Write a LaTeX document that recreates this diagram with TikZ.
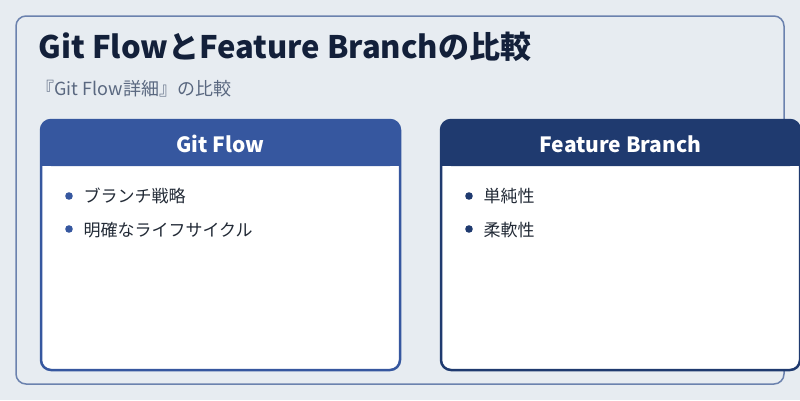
\documentclass[tikz,border=0pt]{standalone}
\usepackage{fontspec}
\setmainfont{Noto Sans CJK JP}
\definecolor{bgcol}{HTML}{E7ECF1}
\definecolor{framecol}{HTML}{6B82AE}
\definecolor{titlecol}{HTML}{13203A}
\definecolor{subcol}{HTML}{5A6880}
\definecolor{gitcol}{HTML}{36579F}
\definecolor{featcol}{HTML}{1F3A6F}
\definecolor{textcol}{HTML}{222A36}
\tikzset{
  headtext/.style={text=white,font=\fontsize{21}{25}\selectfont\bfseries},
  itemtext/.style={anchor=west,text=textcol,font=\fontsize{17}{20}\selectfont},
}
\begin{document}
\begin{tikzpicture}[x=1pt,y=-1pt]
    \newcommand\compcard[5]{% {<left>}{<colour>}{<title>}{<item 1>}{<item 2>}
        \fill[white,rounded corners=10] (#1,120) rectangle ++(359,250);
        \fill[#2,rounded corners=10] (#1,166) -- (#1,120) -- ++(359,0) -- ++(0,46) -- cycle;
        \fill[#2] (#1,150) rectangle ++(359,16);
        \draw[#2,line width=2.5,rounded corners=10] (#1,120) rectangle ++(359,250);
        \node[headtext] at (#1+179.5,144) {#3};
        \fill[#2] (#1+28,196) circle (3.8);
        \fill[#2] (#1+28,229) circle (3.8);
        \node[itemtext] at (#1+39,196) {#4};
        \node[itemtext] at (#1+39,230) {#5};
    }

    \fill[bgcol] (0,0) rectangle (800,400);
    \useasboundingbox (0,0) rectangle (800,400);
    \draw[framecol,line width=1.5,rounded corners=10] (16,16) rectangle (784,384);
    \node[anchor=west,text=titlecol,font=\fontsize{31}{36}\selectfont\bfseries] (title) at (35,47) {Git FlowとFeature Branchの比較};
    \node[anchor=west,text=subcol,font=\fontsize{18}{21}\selectfont] (subtitle) at (33,89) {『Git Flow詳細』の比較};

    \compcard{41}{gitcol}{Git Flow}{ブランチ戦略}{明確なライフサイクル}
    \compcard{441}{featcol}{Feature Branch}{単純性}{柔軟性}
\end{tikzpicture}
\end{document}
